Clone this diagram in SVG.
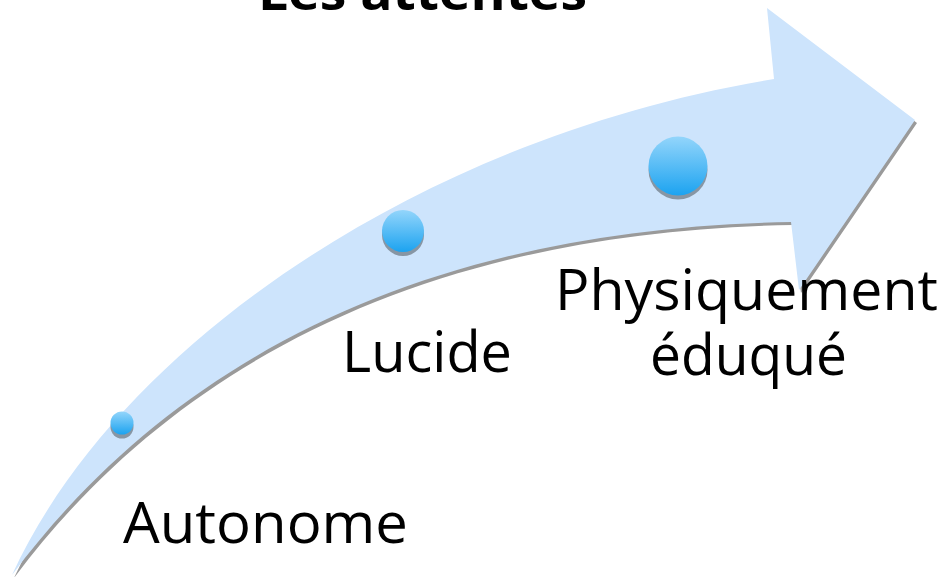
<svg xmlns="http://www.w3.org/2000/svg" width="946" height="577" viewBox="0 0 946 577">
  <defs>
    <linearGradient id="ball" x1="0" y1="0" x2="0" y2="1">
      <stop offset="0" stop-color="#93d5fb"/>
      <stop offset="1" stop-color="#1ca3f0"/>
    </linearGradient>
    <path id="arrowShape" d="M12,575 C120,340 430,135 774,79 L767,8 L915,120 L799,290 L791,222 C440,228 180,350 12,575 Z"/>
  </defs>
  <style>
    .label { font-family: "Open Sans", "Liberation Sans", sans-serif; font-size: 56px; fill: #000; }
    .title { font-family: "Open Sans", "Liberation Sans", sans-serif; font-size: 50px; font-weight: bold; fill: #000; }
    .ballShadow { fill: #8796a4; }
    .ball { fill: url(#ball); }
  </style>
  <g id="title">
    <text class="title" x="258" y="10" textLength="329" lengthAdjust="spacingAndGlyphs">Les attentes</text>
  </g>
  <g id="connectors">
    <use href="#arrowShape" transform="translate(2,3)" fill="#9a9a9a"/>
    <use href="#arrowShape" fill="#cde4fc"/>
  </g>
  <g id="node-autonome">
    <circle class="ballShadow" cx="122" cy="427" r="11.5"/>
    <circle class="ball" cx="122" cy="423" r="11.5"/>
    <text class="label" x="123" y="543" textLength="285" lengthAdjust="spacingAndGlyphs">Autonome</text>
  </g>
  <g id="node-lucide">
    <circle class="ballShadow" cx="403" cy="235" r="21"/>
    <circle class="ball" cx="403" cy="231" r="21"/>
    <text class="label" x="342" y="372" textLength="170" lengthAdjust="spacingAndGlyphs">Lucide</text>
  </g>
  <g id="node-physiquement">
    <circle class="ballShadow" cx="678" cy="170" r="29.5"/>
    <circle class="ball" cx="678" cy="166" r="29.5"/>
    <text class="label" x="555" y="310" textLength="383" lengthAdjust="spacingAndGlyphs">Physiquement</text>
    <text class="label" x="650" y="375" textLength="197" lengthAdjust="spacingAndGlyphs">éduqué</text>
  </g>
</svg>
